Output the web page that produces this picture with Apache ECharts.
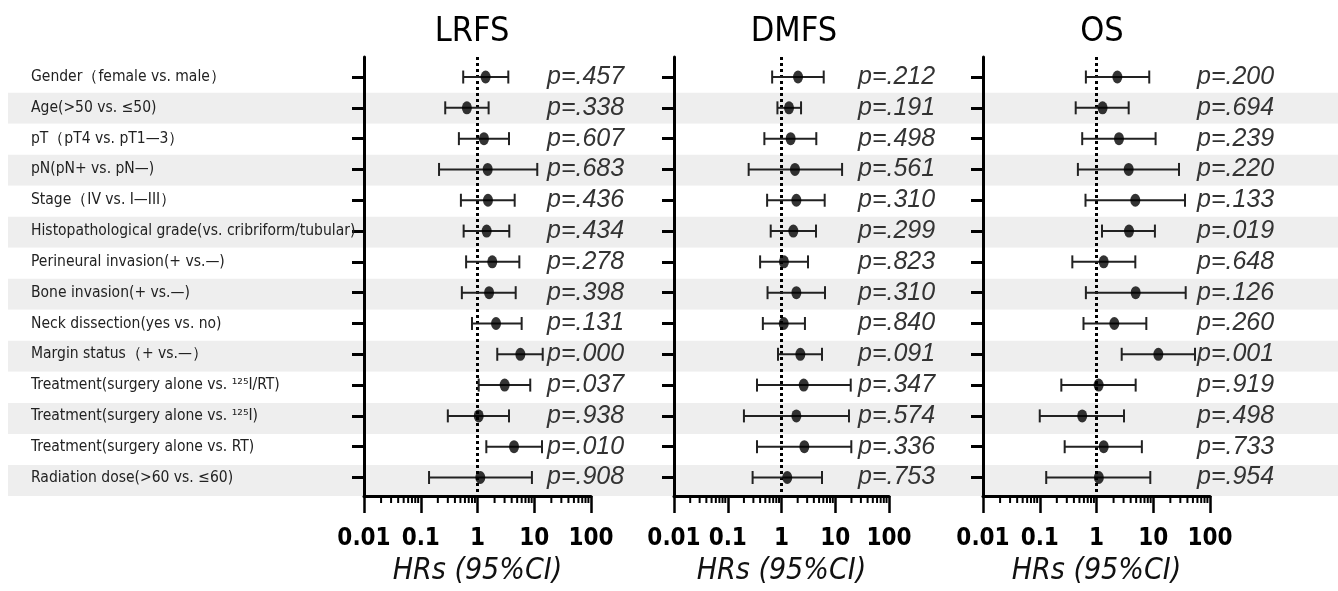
<!DOCTYPE html>
<html><head><meta charset="utf-8">
<script src="https://cdn.jsdelivr.net/npm/echarts@6/dist/echarts.min.js"></script>
<style>html,body{margin:0;padding:0;background:#fff}#c{width:1338px;height:591px}</style>
</head><body><div id="c"></div>
<script>
const categories = [
  'Gender（female vs. male）',
  'Age(>50 vs. ≤50)',
  'pT（pT4 vs. pT1—3）',
  'pN(pN+ vs. pN—)',
  'Stage（IV vs. I—III）',
  'Histopathological grade(vs. cribriform/tubular)',
  'Perineural invasion(+ vs.—)',
  'Bone invasion(+ vs.—)',
  'Neck dissection(yes vs. no)',
  'Margin status（+ vs.—）',
  'Treatment(surgery alone vs. ¹²⁵I/RT)',
  'Treatment(surgery alone vs. ¹²⁵I)',
  'Treatment(surgery alone vs. RT)',
  'Radiation dose(>60 vs. ≤60)'
];
const panelTitles = ['LRFS', 'DMFS', 'OS'];
const axisTitle = 'HRs (95%CI)';

const lrfsHR   = [1.39, 0.65, 1.30, 1.51, 1.53, 1.45, 1.82, 1.60, 2.12, 5.69, 3.01, 1.05, 4.40, 1.12];
const lrfsLow  = [0.56, 0.27, 0.47, 0.21, 0.51, 0.57, 0.63, 0.53, 0.80, 2.23, 1.05, 0.30, 1.43, 0.14];
const lrfsHigh = [3.49, 1.57, 3.59, 11.3, 4.52, 3.63, 5.46, 4.71, 6.00, 14.1, 8.50, 3.59, 13.7, 9.10];
const lrfsP    = ['.457', '.338', '.607', '.683', '.436', '.434', '.278', '.398', '.131', '.000', '.037', '.938', '.010', '.908'];

const dmfsHR   = [2.03, 1.38, 1.48, 1.78, 1.89, 1.66, 1.11, 1.89, 1.10, 2.24, 2.59, 1.89, 2.66, 1.28];
const dmfsLow  = [0.67, 0.84, 0.48, 0.245, 0.54, 0.63, 0.40, 0.55, 0.45, 0.86, 0.35, 0.20, 0.35, 0.29];
const dmfsHigh = [6.10, 2.31, 4.44, 13.4, 6.36, 4.38, 3.11, 6.45, 2.73, 5.67, 19.4, 18.0, 19.9, 5.67];
const dmfsP    = ['.212', '.191', '.498', '.561', '.310', '.299', '.823', '.310', '.840', '.091', '.347', '.574', '.336', '.753'];

const osHR   = [2.33, 1.28, 2.49, 3.69, 4.83, 3.74, 1.34, 4.90, 2.06, 12.3, 1.09, 0.56, 1.34, 1.10];
const osLow  = [0.65, 0.43, 0.56, 0.47, 0.64, 1.25, 0.375, 0.65, 0.59, 2.78, 0.24, 0.10, 0.275, 0.13];
const osHigh = [8.50, 3.69, 11.0, 28.4, 36.3, 10.7, 4.83, 37.3, 7.55, 54.4, 4.90, 3.05, 6.30, 8.87];
const osP    = ['.200', '.694', '.239', '.220', '.133', '.019', '.648', '.126', '.260', '.001', '.919', '.498', '.733', '.954'];

const minorTickValues = [];
[0.01, 0.1, 1, 10].forEach(d => { for (let m = 2; m <= 9; m++) minorTickValues.push(+(d * m).toPrecision(3)); });

const panels = [
  {hr: lrfsHR, lo: lrfsLow, hi: lrfsHigh, p: lrfsP},
  {hr: dmfsHR, lo: dmfsLow, hi: dmfsHigh, p: dmfsP},
  {hr: osHR, lo: osLow, hi: osHigh, p: osP}
];

const NARROW = "'Liberation Sans Narrow','DejaVu Sans Condensed','Arial Narrow',sans-serif";
const SANS = "'Liberation Sans','Arial',sans-serif";
const rowIdx = categories.map((_, i) => i);
const layout = [
  {left: 364, right: 747, pOff: -44, titleX: 467},
  {left: 674, right: 449, pOff: -31, titleX: 789},
  {left: 983, right: 128, pOff: -13, titleX: 1097}
];
const YMIN = -0.65, YMAX = 13.6;

const grid = layout.map(l => ({left: l.left, right: l.right, top: 57, bottom: 92}));
grid.push({left: 8, right: 0, top: 61.65, height: 434.3});

const xAxis = layout.map((l, i) => ({
  gridIndex: i, type: 'log', logBase: 10, min: 0.01, max: 100,
  axisLine: {onZero: false, lineStyle: {color: '#000', width: 3}},
  axisTick: {length: 17, lineStyle: {color: '#000', width: 2.5}},
  splitLine: {show: false},
  axisLabel: {margin: 31, fontFamily: NARROW, fontWeight: 'bold', fontSize: 24, color: '#000',
    formatter: v => String(+(+v).toPrecision(6))},
  name: axisTitle, nameLocation: 'middle', nameGap: 60,
  nameTextStyle: {fontFamily: NARROW, fontStyle: 'italic', fontSize: 30, color: '#111'}
}));
xAxis.push({gridIndex: 3, type: 'value', show: false, min: 0, max: 1});

const yAxis = [];
layout.forEach((l, i) => {
  yAxis.push({
    gridIndex: i, type: 'value', inverse: true, min: YMIN, max: YMAX,
    axisLine: {show: true, onZero: false, lineStyle: {color: '#000', width: 3}},
    axisTick: {show: true, customValues: rowIdx, length: 12, lineStyle: {color: '#000', width: 3}},
    splitLine: {show: false},
    axisLabel: i === 0 ? {
      show: true, customValues: rowIdx, formatter: v => categories[Math.round(v)],
      align: 'left', margin: 333, fontFamily: NARROW, fontSize: 15.5, color: '#222'
    } : {show: false}
  });
  yAxis.push({
    gridIndex: i, type: 'value', inverse: true, min: YMIN, max: YMAX,
    position: 'right', offset: l.pOff,
    axisLine: {show: false}, axisTick: {show: false}, splitLine: {show: false},
    axisLabel: {show: true, customValues: rowIdx, formatter: v => 'p=' + panels[i].p[Math.round(v)],
      align: 'left', margin: 0, fontFamily: SANS, fontStyle: 'italic', fontSize: 25, color: '#333'}
  });
});
yAxis.push({
  gridIndex: 3, type: 'category', data: categories, inverse: true, z: -10,
  axisLine: {show: false}, axisTick: {show: false}, axisLabel: {show: false},
  splitArea: {show: true, areaStyle: {color: ['#ffffff', '#eeeeee']}}
});

const series = [];
panels.forEach((pn, i) => {
  series.push({
    type: 'custom', xAxisIndex: i, yAxisIndex: 2 * i, z: 3, clip: false,
    data: pn.hr.map((_, r) => [pn.lo[r], pn.hi[r], r]),
    encode: {x: [0, 1], y: 2},
    renderItem: (params, api) => {
      const a = api.coord([api.value(0), api.value(2)]);
      const b = api.coord([api.value(1), api.value(2)]);
      const h = 6.5;
      const st = {stroke: '#222', lineWidth: 2};
      return {type: 'group', children: [
        {type: 'line', shape: {x1: a[0], y1: a[1], x2: b[0], y2: b[1]}, style: st},
        {type: 'line', shape: {x1: a[0], y1: a[1] - h, x2: a[0], y2: a[1] + h}, style: st},
        {type: 'line', shape: {x1: b[0], y1: b[1] - h, x2: b[0], y2: b[1] + h}, style: st}
      ]};
    }
  });
  series.push({
    type: 'scatter', xAxisIndex: i, yAxisIndex: 2 * i, z: 5,
    symbol: 'circle', symbolSize: [10, 13],
    itemStyle: {color: '#000'},
    data: pn.hr.map((v, r) => [v, r]),
    markLine: {
      silent: true, symbol: ['none', 'none'], label: {show: false}, z: 2,
      lineStyle: {color: '#000', width: 3, type: [3, 3]},
      data: [{xAxis: 1}]
    }
  });
  series.push({
    type: 'custom', xAxisIndex: i, yAxisIndex: 2 * i, clip: false, z: 3,
    data: minorTickValues.map(v => [v, 0]),
    renderItem: (params, api) => {
      const cs = params.coordSys;
      const x = api.coord([api.value(0), 0])[0];
      const y = cs.y + cs.height;
      return {type: 'line', shape: {x1: x, y1: y, x2: x, y2: y + 7}, style: {stroke: '#000', lineWidth: 2}};
    }
  });
});

const title = layout.map((l, i) => ({
  text: panelTitles[i], left: l.titleX, top: 10, textAlign: 'center',
  textStyle: {fontFamily: NARROW, fontWeight: 'normal', fontSize: 34, color: '#000'}
}));

const chart = echarts.init(document.getElementById('c'), null, {renderer: 'canvas'});
chart.setOption({
  backgroundColor: '#ffffff',
  animation: false,
  title, grid, xAxis, yAxis, series
});
</script></body></html>
